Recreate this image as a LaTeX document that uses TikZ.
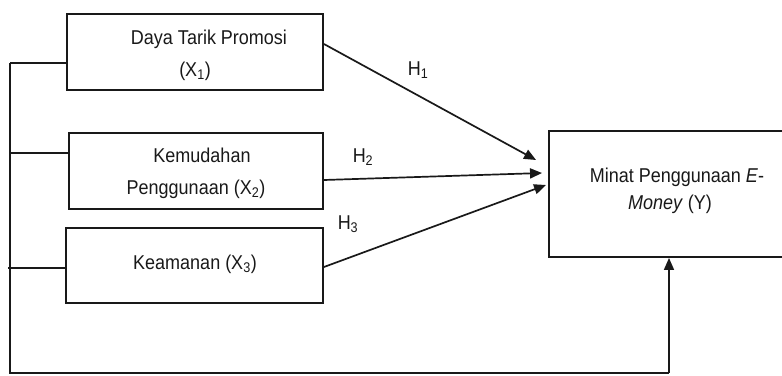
\documentclass[tikz,border=0pt]{standalone}
\usepackage{fontspec}
\setmainfont{Liberation Sans}[FakeStretch=0.9]
\usetikzlibrary{arrows.meta}
\begin{document}
\begin{tikzpicture}[x=1pt,y=-1pt,
  box/.style={draw=black!90, line width=1.9pt, rectangle, inner sep=0pt},
  txt/.style={font=\fontsize{20}{24}\selectfont, text=black!90, inner sep=0pt, anchor=base},
  conn/.style={line width=1.7pt, draw=black!90},
  arr/.style={conn, -{Triangle[length=12pt,width=10pt]}}]
\useasboundingbox (0,0) rectangle (782,375);
\clip (0,0) rectangle (782,375);
% boxes
\node[box, minimum width=256pt, minimum height=76pt] (b1) at (195,52) {};
\node[box, minimum width=254pt, minimum height=76pt] (b2) at (196,171) {};
\node[box, minimum width=257pt, minimum height=75pt] (b3) at (194.5,265.5) {};
\node[box, minimum width=260pt, minimum height=126pt] (bY) at (679,194) {};
% texts
\node[txt] (t1a) at (209,44) {Daya Tarik Promosi};
\node[txt] (t1b) at (195,76) {(X\textsubscript{1})};
\node[txt] (t2a) at (202,162) {Kemudahan};
\node[txt] (t2b) at (196,194) {Penggunaan (X\textsubscript{2})};
\node[txt] (t3) at (195,269) {Keamanan (X\textsubscript{3})};
\node[txt] (tYa) at (677,182) {Minat Penggunaan \textit{E}-};
\node[txt] (tYb) at (670,209) {\textit{Money} (Y)};
\node[txt] (h1) at (418,75) {H\textsubscript{1}};
\node[txt] (h2) at (363,162) {H\textsubscript{2}};
\node[txt] (h3) at (348,229) {H\textsubscript{3}};
% left bus
\coordinate (c1) at (10,63);
\coordinate (c2) at (10,153);
\coordinate (c3) at (8,268);
\coordinate (cb) at (10,373);
\coordinate (cr) at (669,373);
\draw[conn] (c1) -- (c1 -| b1.west);
\draw[conn] (c2) -- (c2 -| b2.west);
\draw[conn] (c3) -- (c3 -| b3.west);
\draw[conn] (c1) -- (cb) -- (cr);
\draw[arr] (cr) -- (cr |- bY.south);
% hypothesis arrows
\draw[arr] ([shift={(0,-8)}]b1.east) -- ([shift={(-12,-34)}]bY.west);
\draw[arr] ([shift={(0,9)}]b2.east) -- ([shift={(-6,-21)}]bY.west);
\draw[arr] ([shift={(0,1.5)}]b3.east) -- ([shift={(-2,-9)}]bY.west);
\end{tikzpicture}
\end{document}
